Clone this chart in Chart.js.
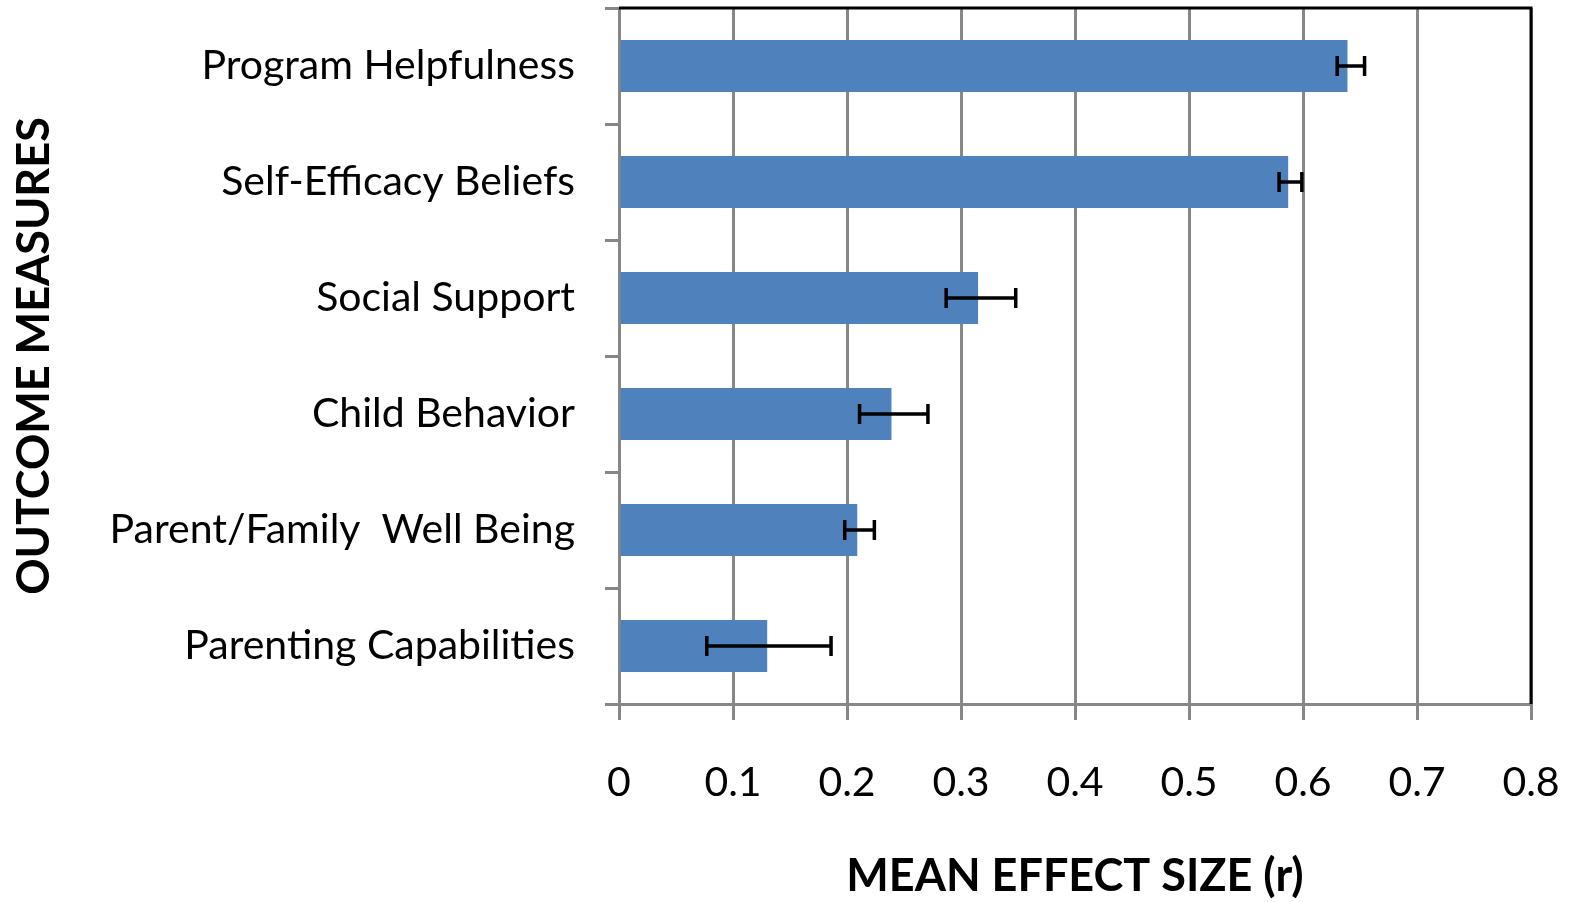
<!DOCTYPE html>
<html>
<head>
<meta charset="utf-8">
<script src="https://cdn.jsdelivr.net/npm/chart.js@4.4.1/dist/chart.umd.min.js"></script>
<style>
  html, body { margin: 0; padding: 0; background: #ffffff; }
  #wrap { width: 1577px; height: 902px; position: relative; }
</style>
</head>
<body>
<div id="wrap"><canvas id="c" width="1577" height="902"></canvas></div>
<script>
const categories = ["Program Helpfulness", "Self-Efficacy Beliefs", "Social Support", "Child Behavior", "Parent/Family  Well Being", "Parenting Capabilities"];
const meanEffect = [0.639, 0.587, 0.315, 0.239, 0.209, 0.130];
const errLow = [0.630, 0.579, 0.287, 0.211, 0.198, 0.077];
const errHigh = [0.654, 0.599, 0.348, 0.271, 0.224, 0.186];
const xTicks = [0, 0.1, 0.2, 0.3, 0.4, 0.5, 0.6, 0.7, 0.8];
const xTitle = "MEAN EFFECT SIZE (r)";
const yTitle = "OUTCOME MEASURES";

const FONT = "Lato, 'Open Sans', sans-serif";
const GRID = "#878787";

const errorBars = {
  id: 'errorBars',
  afterDatasetsDraw(chart) {
    const ctx = chart.ctx;
    const xs = chart.scales.x, ys = chart.scales.y;
    ctx.save();
    ctx.strokeStyle = '#000000';
    ctx.lineWidth = 3.5;
    for (let i = 0; i < categories.length; i++) {
      const y = ys.getPixelForValue(i);
      const x1 = xs.getPixelForValue(errLow[i]);
      const x2 = xs.getPixelForValue(errHigh[i]);
      ctx.beginPath();
      ctx.moveTo(x1, y); ctx.lineTo(x2, y);
      ctx.moveTo(x1, y - 10); ctx.lineTo(x1, y + 10);
      ctx.moveTo(x2, y - 10); ctx.lineTo(x2, y + 10);
      ctx.stroke();
    }
    ctx.restore();
  }
};

const frame = {
  id: 'frame',
  afterDraw(chart) {
    const {ctx, chartArea: a} = chart;
    ctx.save();
    ctx.strokeStyle = '#000000';
    ctx.lineWidth = 3;
    ctx.beginPath();
    ctx.moveTo(a.left, a.top);
    ctx.lineTo(a.right, a.top);
    ctx.lineTo(a.right, a.bottom);
    ctx.stroke();
    ctx.restore();
  }
};

new Chart(document.getElementById('c'), {
  type: 'bar',
  data: {
    labels: categories,
    datasets: [{
      data: meanEffect,
      backgroundColor: '#4F81BD',
      borderWidth: 0,
      barPercentage: 0.45,
      categoryPercentage: 1.0
    }]
  },
  options: {
    indexAxis: 'y',
    responsive: false,
    animation: false,
    devicePixelRatio: 1,
    layout: { padding: { top: 8, right: 46, left: 0, bottom: 0 } },
    plugins: { legend: { display: false }, tooltip: { enabled: false } },
    scales: {
      x: {
        type: 'linear',
        min: 0, max: 0.8,
        afterBuildTicks(scale) { scale.ticks = xTicks.map(v => ({ value: v })); },
        afterFit(scale) { scale.height = 198; scale.paddingLeft = 0; scale.paddingRight = 0; },
        grid: { color: GRID, lineWidth: 3, tickLength: 16, drawTicks: true },
        border: { color: GRID, width: 3 },
        ticks: {
          color: '#000000',
          font: { family: FONT, size: 41 },
          padding: 38,
          maxRotation: 0,
          callback: (v) => String(v)
        },
        title: {
          display: true,
          text: xTitle,
          color: '#000000',
          font: { family: FONT, size: 45, weight: 'bold', lineHeight: 1 },
          padding: { top: 0, bottom: 3 }
        }
      },
      y: {
        type: 'category',
        afterFit(scale) { scale.width = 619; scale.paddingTop = 0; scale.paddingBottom = 0; },
        grid: { offset: true, drawOnChartArea: false, drawTicks: true, tickLength: 14, color: GRID, lineWidth: 3 },
        border: { color: GRID, width: 3 },
        ticks: {
          color: '#000000',
          font: { family: FONT, size: 41 },
          padding: 30
        },
        title: {
          display: true,
          text: yTitle,
          color: '#000000',
          font: { family: FONT, size: 45, weight: 'bold', lineHeight: 1 },
          padding: { top: 12, bottom: 0 }
        }
      }
    }
  },
  plugins: [errorBars, frame]
});
</script>
</body>
</html>
